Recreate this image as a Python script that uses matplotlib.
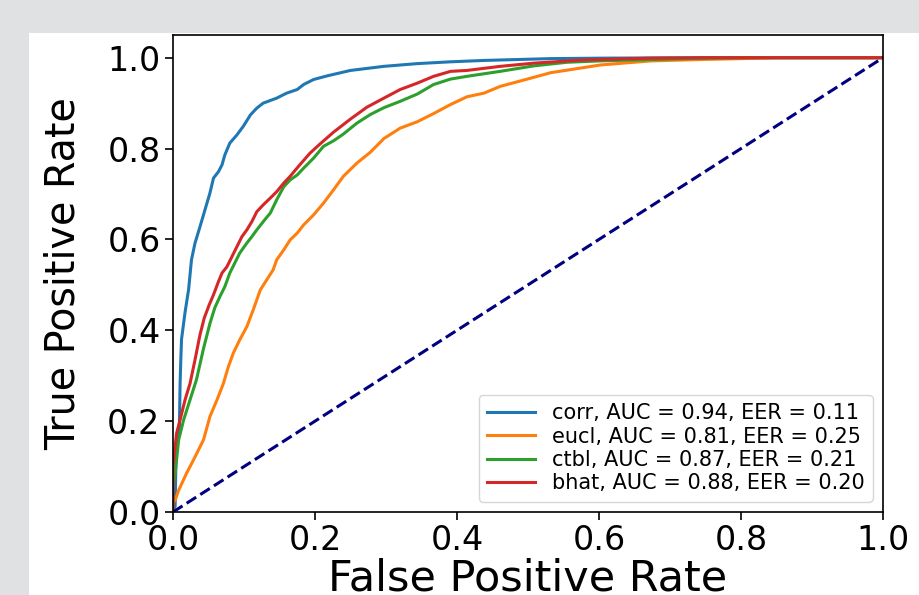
import matplotlib
matplotlib.use("Agg")
import matplotlib.pyplot as plt
from matplotlib.patches import Rectangle

# ROC curves (FPR, TPR)
corr_fpr = [0, 0.0, 0.003, 0.004, 0.005, 0.009, 0.010, 0.011, 0.012, 0.017, 0.022, 0.026,
            0.031, 0.038, 0.045, 0.052, 0.057, 0.064, 0.069, 0.073, 0.080, 0.090, 0.099,
            0.109, 0.118, 0.127, 0.146, 0.160, 0.175, 0.184, 0.198, 0.217, 0.250, 0.297,
            0.344, 0.391, 0.438, 0.532, 0.602, 0.673, 0.75, 1.0]
corr_tpr = [0, 0.005, 0.012, 0.10, 0.151, 0.188, 0.283, 0.335, 0.38, 0.44, 0.49, 0.555,
            0.592, 0.628, 0.665, 0.702, 0.735, 0.749, 0.764, 0.786, 0.812, 0.830, 0.849,
            0.874, 0.889, 0.900, 0.911, 0.922, 0.930, 0.941, 0.952, 0.960, 0.972, 0.981,
            0.987, 0.991, 0.994, 0.998, 0.999, 0.9995, 1.0, 1.0]

eucl_fpr = [0, 0.0, 0.003, 0.008, 0.019, 0.029, 0.043, 0.052, 0.062, 0.071, 0.078, 0.085,
            0.094, 0.104, 0.113, 0.123, 0.132, 0.141, 0.146, 0.156, 0.165, 0.175, 0.184,
            0.198, 0.212, 0.226, 0.240, 0.259, 0.278, 0.297, 0.320, 0.344, 0.367, 0.391,
            0.414, 0.438, 0.461, 0.485, 0.532, 0.602, 0.673, 0.743, 0.80, 0.85, 1.0]
eucl_tpr = [0, 0.02, 0.026, 0.048, 0.085, 0.115, 0.159, 0.210, 0.247, 0.283, 0.320, 0.350,
            0.379, 0.408, 0.445, 0.489, 0.511, 0.533, 0.555, 0.577, 0.599, 0.614, 0.632,
            0.654, 0.680, 0.709, 0.739, 0.768, 0.792, 0.822, 0.845, 0.859, 0.877, 0.897,
            0.914, 0.922, 0.937, 0.947, 0.967, 0.984, 0.993, 0.996, 0.998, 1.0, 1.0]

ctbl_fpr = [0, 0.0, 0.003, 0.008, 0.015, 0.024, 0.033, 0.043, 0.052, 0.059, 0.066, 0.073,
            0.080, 0.087, 0.094, 0.104, 0.111, 0.118, 0.127, 0.137, 0.146, 0.156, 0.165,
            0.175, 0.184, 0.198, 0.212, 0.226, 0.240, 0.259, 0.278, 0.297, 0.320, 0.344,
            0.367, 0.391, 0.414, 0.461, 0.508, 0.555, 0.602, 0.673, 0.75, 0.82, 1.0]
ctbl_tpr = [0, 0.06, 0.085, 0.159, 0.203, 0.247, 0.291, 0.360, 0.415, 0.450, 0.474, 0.496,
            0.526, 0.548, 0.570, 0.592, 0.606, 0.621, 0.639, 0.658, 0.687, 0.716, 0.731,
            0.742, 0.757, 0.779, 0.805, 0.817, 0.832, 0.856, 0.875, 0.890, 0.904, 0.920,
            0.941, 0.953, 0.959, 0.970, 0.982, 0.990, 0.993, 0.996, 0.999, 1.0, 1.0]

bhat_fpr = [0, 0.0, 0.003, 0.005, 0.010, 0.017, 0.024, 0.031, 0.038, 0.044, 0.051, 0.057,
            0.064, 0.069, 0.076, 0.083, 0.090, 0.097, 0.104, 0.111, 0.118, 0.127, 0.137,
            0.146, 0.156, 0.165, 0.179, 0.193, 0.207, 0.226, 0.250, 0.273, 0.297, 0.320,
            0.344, 0.367, 0.391, 0.414, 0.461, 0.508, 0.578, 0.673, 0.75, 1.0]
bhat_tpr = [0, 0.10, 0.144, 0.173, 0.203, 0.247, 0.283, 0.335, 0.390, 0.427, 0.456, 0.478,
            0.507, 0.526, 0.540, 0.562, 0.584, 0.606, 0.621, 0.639, 0.661, 0.676, 0.691,
            0.705, 0.724, 0.739, 0.765, 0.790, 0.810, 0.836, 0.865, 0.891, 0.911, 0.930,
            0.944, 0.959, 0.970, 0.972, 0.981, 0.988, 0.995, 0.999, 1.0, 1.0]

labels = ["corr, AUC = 0.94, EER = 0.11",
          "eucl, AUC = 0.81, EER = 0.25",
          "ctbl, AUC = 0.87, EER = 0.21",
          "bhat, AUC = 0.88, EER = 0.20"]
colors = ["#1f77b4", "#ff7f0e", "#2ca02c", "#d62728"]
xticks = [0.0, 0.2, 0.4, 0.6, 0.8, 1.0]
yticks = [0.0, 0.2, 0.4, 0.6, 0.8, 1.0]

plt.rcParams['font.family'] = ['DejaVu Sans']

fig = plt.figure(figsize=(9.19, 5.95), dpi=100)
fig.patch.set_facecolor("#e0e1e3")
fig.patches.append(Rectangle((29 / 919, 0), 1 - 29 / 919, (595 - 33) / 595,
                             transform=fig.transFigure, facecolor="white",
                             edgecolor="none", zorder=-10))

ax = fig.add_axes([173 / 919, (595 - 512) / 595, 710 / 919, 477 / 595])
ax.set_zorder(1)
series = [(corr_fpr, corr_tpr), (eucl_fpr, eucl_tpr), (ctbl_fpr, ctbl_tpr), (bhat_fpr, bhat_tpr)]
for (fx, ty), lab, c in zip(series, labels, colors):
    ax.plot(fx, ty, color=c, lw=2.2, label=lab)
ax.plot([0, 1], [0, 1], color="navy", lw=2.2, linestyle="--")

ax.set_xlim(0, 1)
ax.set_ylim(0, 1.05)
ax.set_xticks(xticks)
ax.set_yticks(yticks)
ax.set_xticklabels([f"{t:.1f}" for t in xticks])
ax.set_yticklabels([f"{t:.1f}" for t in yticks])
ax.tick_params(labelsize=24, length=6, width=1.2, pad=3)
for s in ax.spines.values():
    s.set_linewidth(1.2)
ax.set_xlabel("False Positive Rate", fontsize=31, labelpad=0)
ax.set_ylabel("True Positive Rate", fontsize=28.5, labelpad=17)

ax.legend(loc="lower right", fontsize=15, handlelength=2.3, labelspacing=0.16,
          borderaxespad=0.5)

fig.savefig("out.png", dpi=100, facecolor=fig.get_facecolor())
